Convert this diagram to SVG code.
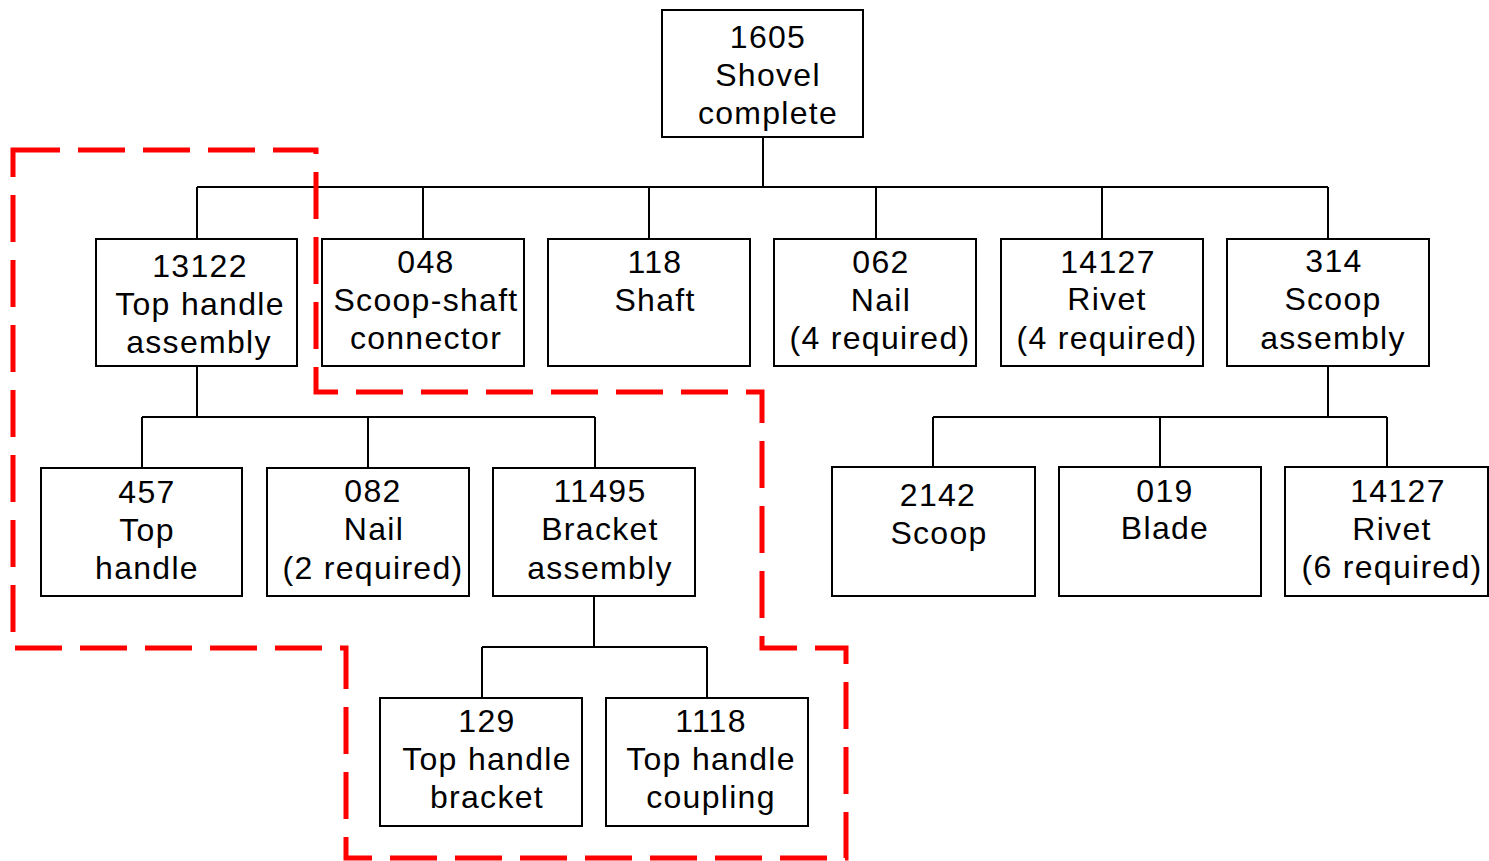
<svg xmlns="http://www.w3.org/2000/svg" width="1489" height="861" viewBox="0 0 1489 861">
<style>
.box{fill:#fff;stroke:#000;stroke-width:2}
.conn{fill:none;stroke:#000;stroke-width:2}
text{font-family:"Liberation Sans",Arial,sans-serif;font-size:32px;letter-spacing:1.3px;text-anchor:middle;fill:#000}
.zone{fill:none;stroke:#ff0000;stroke-width:5;stroke-dasharray:47 18}
</style>
<rect width="1489" height="861" fill="#fff"/>
<g id="connectors">
<path class="conn" d="M763 137V187M197 187H1328M197 187V239M423 187V239M649 187V239M876 187V239M1102 187V239M1328 187V239"/>
<path class="conn" d="M197 366V417M142 417H595M142 417V468M368 417V468M595 417V468"/>
<path class="conn" d="M1328 366V417M933 417H1387M933 417V467M1160 417V467M1387 417V467"/>
<path class="conn" d="M594 596V647M482 647H707M482 647V698M707 647V698"/>
</g>
<g id="n1605"><rect class="box" x="662" y="10" width="201" height="127"/><text x="768" y="48">1605</text><text x="768" y="86">Shovel</text><text x="768" y="124">complete</text></g>
<g id="n13122"><rect class="box" x="96" y="239" width="201" height="127"/><text x="200" y="277">13122</text><text x="200" y="315">Top handle</text><text x="199" y="353">assembly</text></g>
<g id="n048"><rect class="box" x="322" y="239" width="202" height="127"/><text x="426" y="273">048</text><text x="426" y="311">Scoop-shaft</text><text x="426" y="349">connector</text></g>
<g id="n118"><rect class="box" x="548" y="239" width="202" height="127"/><text x="655" y="273">118</text><text x="655" y="311">Shaft</text></g>
<g id="n062"><rect class="box" x="774" y="239" width="202" height="127"/><text x="881" y="273">062</text><text x="881" y="311">Nail</text><text x="880" y="349">(4 required)</text></g>
<g id="n14127a"><rect class="box" x="1001" y="239" width="202" height="127"/><text x="1108" y="273">14127</text><text x="1107" y="310">Rivet</text><text x="1107" y="349">(4 required)</text></g>
<g id="n314"><rect class="box" x="1227" y="239" width="202" height="127"/><text x="1334" y="272">314</text><text x="1333" y="310">Scoop</text><text x="1333" y="349">assembly</text></g>
<g id="n457"><rect class="box" x="41" y="468" width="201" height="128"/><text x="147" y="503">457</text><text x="147" y="541">Top</text><text x="147" y="579">handle</text></g>
<g id="n082"><rect class="box" x="267" y="468" width="202" height="128"/><text x="373" y="502">082</text><text x="374" y="540">Nail</text><text x="373" y="579">(2 required)</text></g>
<g id="n11495"><rect class="box" x="493" y="468" width="202" height="128"/><text x="600" y="502">11495</text><text x="600" y="540">Bracket</text><text x="600" y="579">assembly</text></g>
<g id="n2142"><rect class="box" x="832" y="467" width="203" height="129"/><text x="938" y="506">2142</text><text x="939" y="544">Scoop</text></g>
<g id="n019"><rect class="box" x="1059" y="467" width="202" height="129"/><text x="1165" y="502">019</text><text x="1165" y="539">Blade</text></g>
<g id="n14127b"><rect class="box" x="1285" y="467" width="203" height="129"/><text x="1398" y="502">14127</text><text x="1392" y="540">Rivet</text><text x="1392" y="578">(6 required)</text></g>
<g id="n129"><rect class="box" x="380" y="698" width="202" height="128"/><text x="487" y="732">129</text><text x="487" y="770">Top handle</text><text x="487" y="808">bracket</text></g>
<g id="n1118"><rect class="box" x="606" y="698" width="202" height="128"/><text x="711" y="732">1118</text><text x="711" y="770">Top handle</text><text x="711" y="808">coupling</text></g>
<g id="zone"><path class="zone" d="M13 150H316V392H762V648H846V858H346V648H13Z"/></g>
</svg>
